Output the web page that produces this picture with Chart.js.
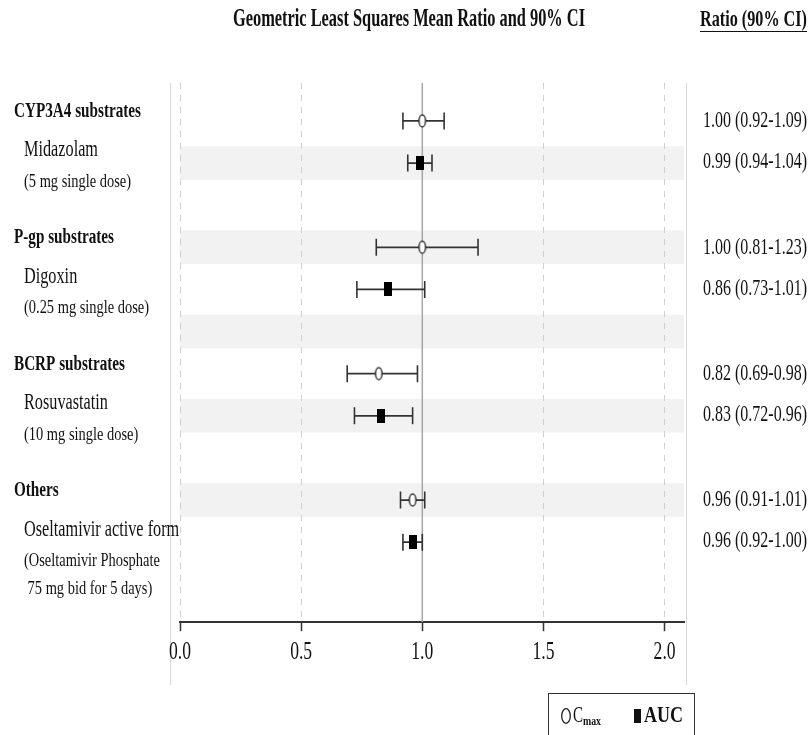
<!DOCTYPE html>
<html>
<head>
<meta charset="utf-8">
<script src="https://cdn.jsdelivr.net/npm/chart.js@4.4.1/dist/chart.umd.min.js"></script>
<style>
  html, body { margin: 0; padding: 0; background: #fff; }
  #wrap { width: 809px; height: 735px; }
</style>
</head>
<body>
<div id="wrap"><canvas id="forest" width="809" height="735"></canvas></div>
<script>
// Values
const groups = ['CYP3A4 substrates', 'P-gp substrates', 'BCRP substrates', 'Others'];
const drugs = ['Midazolam', 'Digoxin', 'Rosuvastatin', 'Oseltamivir active form'];
const doseNotes = [
  ['(5 mg single dose)'],
  ['(0.25 mg single dose)'],
  ['(10 mg single dose)'],
  ['(Oseltamivir Phosphate', ' 75 mg bid for 5 days)']
];

const cmaxRatio = [1.00, 1.00, 0.82, 0.96];
const cmaxLow   = [0.92, 0.81, 0.69, 0.91];
const cmaxHigh  = [1.09, 1.23, 0.98, 1.01];
const aucRatio  = [0.99, 0.86, 0.83, 0.96];
const aucLow    = [0.94, 0.73, 0.72, 0.92];
const aucHigh   = [1.04, 1.01, 0.96, 1.00];

const xTicks = [0, 0.5, 1.0, 1.5, 2.0];

// each group uses 3 row slots: Cmax, AUC, spacer
const cmaxRow = i => 3 * i;
const aucRow = i => 3 * i + 1;
const INK = '#333';
const SERIF = '"Liberation Serif", "Times New Roman", serif';

function makeMarker(w, h, draw) {
  const c = document.createElement('canvas');
  c.width = w; c.height = h;
  draw(c.getContext('2d'), w, h);
  return c;
}
const openMark = makeMarker(10, 16, (g, w, h) => {
  g.fillStyle = '#fff'; g.strokeStyle = INK; g.lineWidth = 1.5;
  g.beginPath(); g.ellipse(w / 2, h / 2, 3.3, 6, 0, 0, Math.PI * 2);
  g.fill(); g.stroke();
});
const solidMark = makeMarker(8, 14, (g, w, h) => {
  g.fillStyle = '#000'; g.fillRect(0, 0, w, h);
});
const legendCircle = makeMarker(12, 18, (g, w, h) => {
  g.strokeStyle = '#222'; g.lineWidth = 1.3;
  g.beginPath(); g.ellipse(w / 2, h / 2, 4.3, 7.3, 0, 0, Math.PI * 2);
  g.stroke();
});

// text styles: font plus the width a sample string takes in the figure,
// used to squeeze the serif into the tall narrow look of the original
const styles = {
  title:  { font: 'bold 26px ' + SERIF, sample: 'Geometric Least Squares Mean Ratio and 90% CI', width: 352 },
  ratioH: { font: 'bold 23px ' + SERIF, sample: 'Ratio (90% CI)', width: 107 },
  group:  { font: 'bold 20px ' + SERIF, sample: 'CYP3A4 substrates', width: 127 },
  drug:   { font: '23px ' + SERIF, sample: 'Midazolam', width: 74 },
  note:   { font: '19px ' + SERIF, sample: '(5 mg single dose)', width: 107 },
  value:  { font: '24px ' + SERIF, sample: '1.00 (0.92-1.09)', width: 104 },
  tick:   { font: '25px ' + SERIF, sample: '0.0', width: 22 },
  legC:   { font: '23px ' + SERIF, sample: 'C', width: 10 },
  legSub: { font: 'bold 13px ' + SERIF, sample: 'max', width: 18 },
  legAUC: { font: 'bold 23px ' + SERIF, sample: 'AUC', width: 39 }
};

function squeeze(ctx, text, x, y, style, align) {
  ctx.save();
  ctx.font = style.font;
  if (!style.sx) style.sx = style.width / ctx.measureText(style.sample).width;
  ctx.fillStyle = '#111';
  ctx.textBaseline = 'middle';
  ctx.textAlign = align || 'left';
  ctx.translate(x, y);
  ctx.scale(style.sx, 1);
  ctx.fillText(text, 0, 0);
  ctx.restore();
}

function ciText(r, lo, hi) {
  return r.toFixed(2) + ' (' + lo.toFixed(2) + '-' + hi.toFixed(2) + ')';
}

function errorBar(lo, hi, row) {
  return {
    data: [{ x: lo, y: row }, { x: hi, y: row }],
    showLine: true,
    borderColor: INK,
    borderWidth: 1.8,
    pointStyle: 'line',
    rotation: 90,
    pointRadius: 8.5,
    pointBorderColor: INK,
    pointBorderWidth: 1.6,
    order: 1
  };
}

const datasets = [];
groups.forEach((g, i) => {
  datasets.push(errorBar(cmaxLow[i], cmaxHigh[i], cmaxRow(i)));
  datasets.push(errorBar(aucLow[i], aucHigh[i], aucRow(i)));
});
datasets.push({
  label: 'Cmax',
  data: cmaxRatio.map((v, i) => ({ x: v, y: cmaxRow(i) })),
  pointStyle: openMark,
  pointRadius: 6,
  order: 0
});
datasets.push({
  label: 'AUC',
  data: aucRatio.map((v, i) => ({ x: v, y: aucRow(i) })),
  pointStyle: solidMark,
  pointRadius: 6,
  order: 0
});
// no-effect line at ratio 1
datasets.push({
  data: [{ x: 1, y: -0.9 }, { x: 1, y: 11.9 }],
  showLine: true,
  borderColor: '#a6a6a6',
  borderWidth: 1.5,
  pointRadius: 0,
  order: 2
});

const bandsPlugin = {
  id: 'bands',
  beforeDraw(chart) {
    const { ctx, chartArea: a, scales: { y } } = chart;
    ctx.save();
    ctx.fillStyle = '#f2f2f2';
    for (let s = 1; s < 11; s += 2) {
      const top = y.getPixelForValue(s - 0.4);
      const bot = y.getPixelForValue(s + 0.4);
      ctx.fillRect(a.left, top, a.right - a.left, bot - top);
    }
    ctx.restore();
  }
};

const textPlugin = {
  id: 'labels',
  afterDraw(chart) {
    const { ctx, chartArea: a, scales: { x, y } } = chart;

    // panel frame lines
    ctx.save();
    ctx.strokeStyle = '#d9d9d9';
    ctx.lineWidth = 1;
    ctx.beginPath();
    ctx.moveTo(a.left - 9.5, a.top); ctx.lineTo(a.left - 9.5, a.bottom + 63);
    ctx.moveTo(a.right + 2.5, a.top); ctx.lineTo(a.right + 2.5, a.bottom + 63);
    ctx.stroke();
    ctx.restore();

    // tick labels
    xTicks.forEach(v => squeeze(ctx, v.toFixed(1), x.getPixelForValue(v), a.bottom + 30, styles.tick, 'center'));

    squeeze(ctx, 'Geometric Least Squares Mean Ratio and 90% CI', 409, 19, styles.title, 'center');
    squeeze(ctx, 'Ratio (90% CI)', 700, 20, styles.ratioH);
    ctx.save();
    ctx.strokeStyle = '#111'; ctx.lineWidth = 1;
    ctx.beginPath(); ctx.moveTo(700, 31.5); ctx.lineTo(807, 31.5); ctx.stroke();
    ctx.restore();

    groups.forEach((g, i) => {
      const r = cmaxRow(i);
      squeeze(ctx, g, 14, y.getPixelForValue(r - 0.22), styles.group);
      squeeze(ctx, drugs[i], 24, y.getPixelForValue(r + 0.7), styles.drug);
      doseNotes[i].forEach((line, k) => {
        squeeze(ctx, line, 24, y.getPixelForValue(r + 1.45 + 0.67 * k), styles.note);
      });
      squeeze(ctx, ciText(cmaxRatio[i], cmaxLow[i], cmaxHigh[i]), 703, y.getPixelForValue(r), styles.value);
      squeeze(ctx, ciText(aucRatio[i], aucLow[i], aucHigh[i]), 703, y.getPixelForValue(aucRow(i)) - 1, styles.value);
    });

    // legend box
    ctx.save();
    ctx.strokeStyle = INK; ctx.lineWidth = 1;
    ctx.strokeRect(548.5, 693.5, 146, 60);
    ctx.drawImage(legendCircle, 566 - legendCircle.width / 2, 716 - legendCircle.height / 2);
    ctx.fillStyle = '#111';
    ctx.fillRect(634, 709, 7, 14);
    ctx.restore();
    squeeze(ctx, 'C', 573, 716, styles.legC);
    squeeze(ctx, 'max', 583, 722, styles.legSub);
    squeeze(ctx, 'AUC', 644, 716, styles.legAUC);
  }
};

new Chart(document.getElementById('forest'), {
  type: 'scatter',
  data: { datasets },
  options: {
    responsive: false,
    animation: false,
    layout: { padding: { left: 180, right: 125, top: 83, bottom: 63 } },
    plugins: { legend: { display: false }, tooltip: { enabled: false } },
    scales: {
      x: {
        type: 'linear',
        min: 0,
        max: 2.08,
        afterBuildTicks: axis => { axis.ticks = xTicks.map(v => ({ value: v })); },
        ticks: {
          padding: 9,
          color: 'rgba(0,0,0,0)',
          font: { family: SERIF, size: 19 },
          callback: v => v.toFixed(1)
        },
        grid: {
          color: c => (c.tick && c.tick.value === 1 ? 'rgba(0,0,0,0)' : '#cfcfcf'),
          lineWidth: 1,
          tickLength: 9,
          tickColor: INK,
          tickWidth: 1.5
        },
        border: { display: true, color: INK, width: 2, dash: [6, 6] }
      },
      y: {
        type: 'linear',
        reverse: true,
        min: -0.9,
        max: 11.9,
        display: false
      }
    }
  },
  plugins: [bandsPlugin, textPlugin]
});
</script>
</body>
</html>
